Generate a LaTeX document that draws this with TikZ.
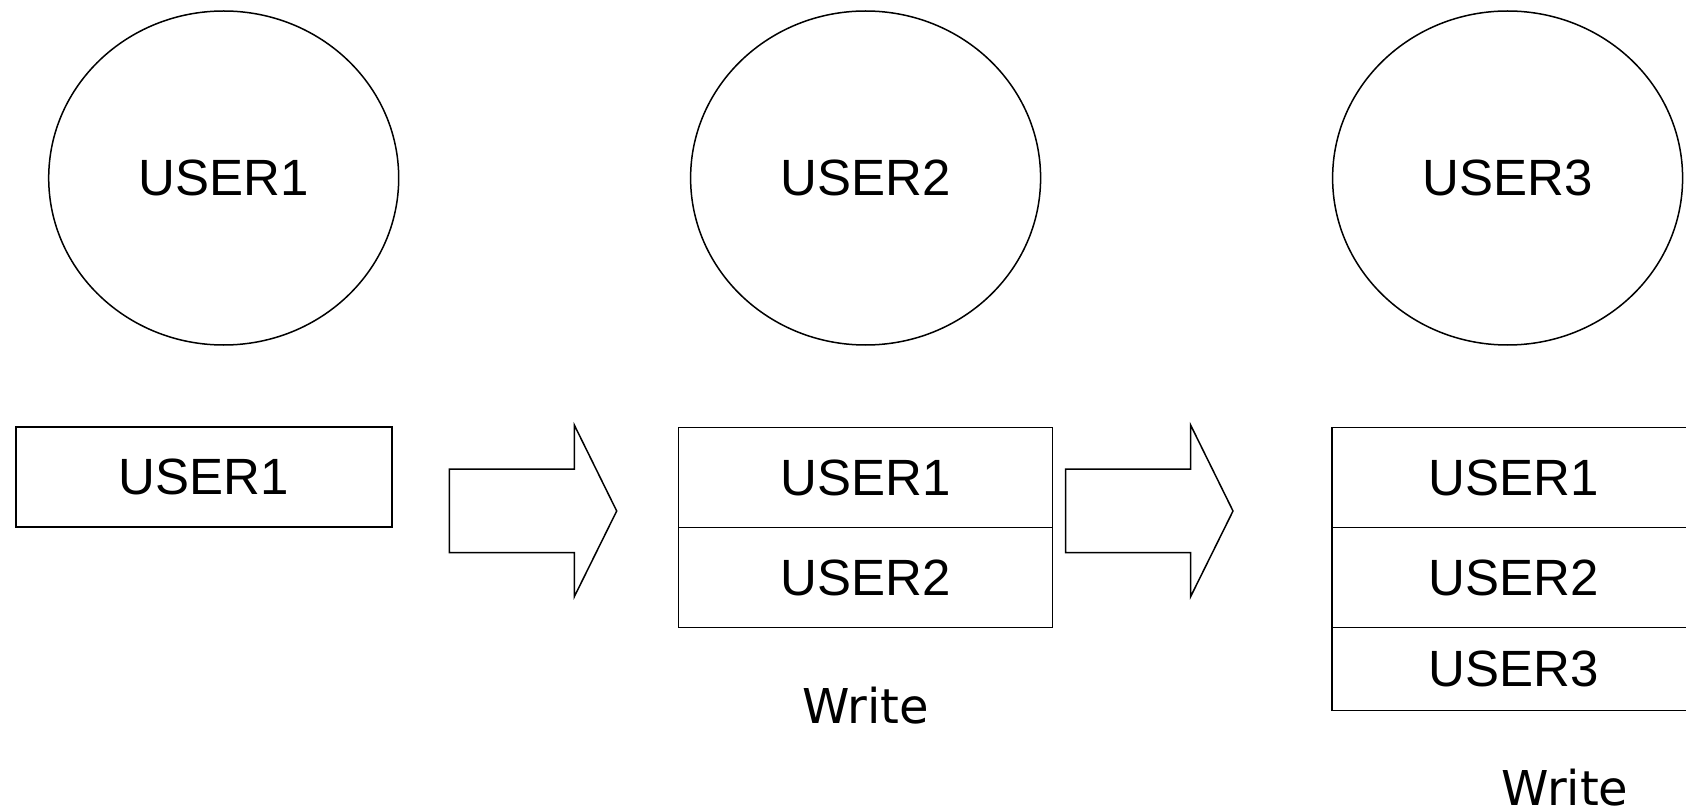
\documentclass[tikz,border=0pt]{standalone}
\usepackage{fontspec}
\setmainfont{Liberation Sans}
\newfontfamily\writefont{DejaVu Sans}
\usetikzlibrary{shapes.geometric}
\begin{document}
\begin{tikzpicture}[x=1pt,y=-1pt,
  line width=1.5pt,
  user/.style={draw, ellipse, inner sep=0pt, minimum width=350pt, minimum height=334pt,
    font=\fontsize{51}{60}\selectfont},
  cell/.style={draw, rectangle, inner sep=0pt, outer sep=0pt, minimum height=100pt,
    font=\fontsize{51}{60}\selectfont},
  lastcell/.style={cell, minimum height=83pt},
  label/.style={inner sep=0pt, font=\writefont\fontsize{48}{56}\selectfont},
  fatarrow/.style={draw, line join=miter}]
\useasboundingbox (0,0) rectangle (1686,810);
\clip (0,0) rectangle (1686,810);

% users
\node[user] (u1) at (223.7,178) {USER1};
\node[user] (u2) at (865.6,178) {USER2};
\node[user] (u3) at (1507.6,178) {USER3};

% first state
\node[cell, minimum width=376pt] (a1) at (204,477) {USER1};

% second state
\node[cell, minimum width=374pt, anchor=north] (b1) at (865.6,427.5) {USER1};
\node[cell, minimum width=374pt, anchor=north] (b2) at (b1.south) {USER2};
\node[label] (w1) at (865.7,705.5) {Write};

% third state
\node[cell, minimum width=363pt, anchor=north] (c1) at (1513.5,427.5) {USER1};
\node[cell, minimum width=363pt, anchor=north] (c2) at (c1.south) {USER2};
\node[lastcell, minimum width=363pt, anchor=north] (c3) at (c2.south) {USER3};
\node[label] (w2) at (1565,787.5) {Write};

% block arrows between the states
\foreach \dx in {0,616.3}{
  \draw[fatarrow, xshift=\dx pt] (449.3,469) -- (574.3,469) -- (574.3,425) -- (616.7,511)
    -- (574.3,596.7) -- (574.3,552.7) -- (449.3,552.7) -- cycle;
}
\end{tikzpicture}
\end{document}
